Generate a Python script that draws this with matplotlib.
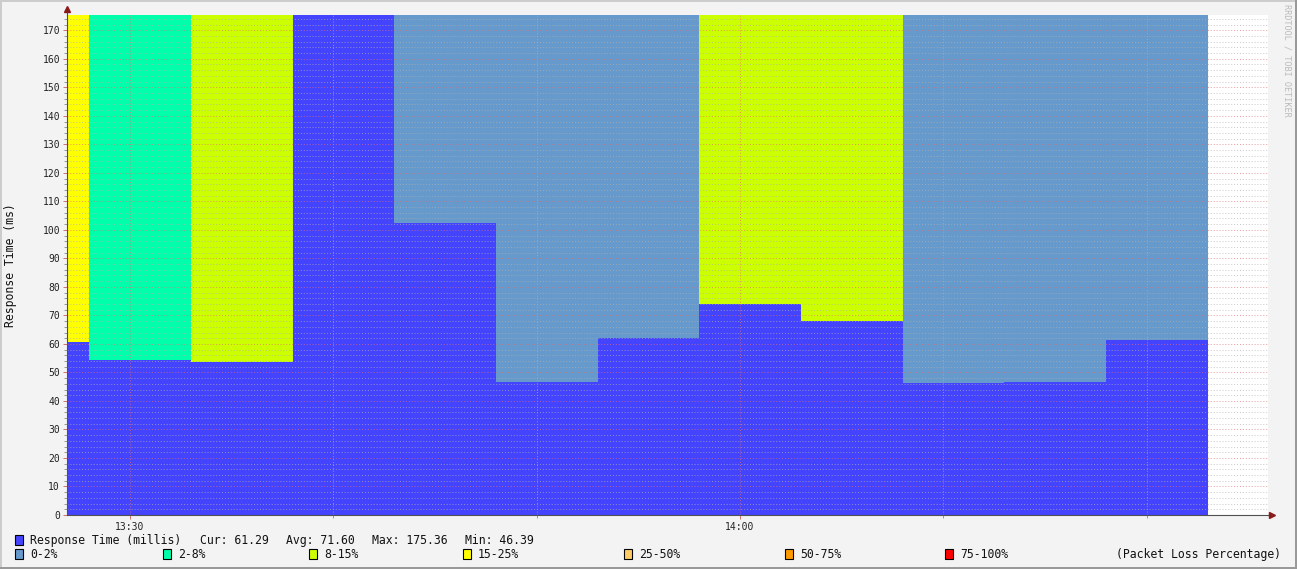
import numpy as np
import matplotlib.pyplot as plt
from matplotlib.patches import Rectangle
from matplotlib.ticker import MultipleLocator, FixedLocator

plt.rcParams['font.family'] = ['DejaVu Sans Mono']

# x is minutes after 13:00, data comes in 5 minute steps
step_edges = [26.9, 28, 33, 38, 43, 48, 53, 58, 63, 68, 73, 78, 83]
response_ms = [60.6, 54.3, 53.6, 175.36, 102.3, 46.6, 62.0, 74.0, 68.0, 46.39, 46.6, 61.29]
loss_band = ['15-25%', '2-8%', '8-15%', '0-2%', '0-2%', '0-2%', '0-2%',
             '8-15%', '8-15%', '0-2%', '0-2%', '0-2%']

loss_labels = ['0-2%', '2-8%', '8-15%', '15-25%', '25-50%', '50-75%', '75-100%']
loss_colors = ['#6699cc', '#00ffaa', '#ccff00', '#ffff00', '#ffcc66', '#ff9900', '#ff0000']

stat_labels = ['Cur: 61.29', 'Avg: 71.60', 'Max: 175.36', 'Min: 46.39']
x_tick_pos = [30, 60]
x_tick_labels = ['13:30', '14:00']

y_top = 175.36
x_min, x_max = 26.9, 85.97

W, H = 1297, 569
fig = plt.figure(figsize=(W / 100, H / 100), dpi=100)
fig.patch.set_facecolor('#f3f3f3')

# 3d-ish frame around the image
fig.add_artist(Rectangle((0, 1 - 2 / H), 1, 2 / H, transform=fig.transFigure, color='#cccccc', lw=0))
fig.add_artist(Rectangle((0, 0), 2 / W, 1, transform=fig.transFigure, color='#cccccc', lw=0))
fig.add_artist(Rectangle((1 - 2 / W, 0), 2 / W, 1, transform=fig.transFigure, color='#999999', lw=0))
fig.add_artist(Rectangle((0, 0), 1, 2 / H, transform=fig.transFigure, color='#999999', lw=0))

ax = fig.add_axes([67 / W, 54 / H, 1201 / W, 500 / H])
ax.set_facecolor('white')

color_of = dict(zip(loss_labels, loss_colors))
ax.bar(step_edges[:-1], y_top, width=np.diff(step_edges), align='edge',
       color=[color_of[b] for b in loss_band], linewidth=0, zorder=1)
ax.stairs(response_ms, step_edges, fill=True, color='#4444ff', linewidth=0, zorder=2)

ax.set_xlim(x_min, x_max)
ax.set_ylim(0, y_top)

ax.yaxis.set_major_locator(MultipleLocator(10))
ax.yaxis.set_minor_locator(MultipleLocator(2))
ax.xaxis.set_major_locator(FixedLocator(x_tick_pos))
ax.set_xticklabels(x_tick_labels)
ax.xaxis.set_minor_locator(MultipleLocator(10))

ax.set_axisbelow(False)
ax.grid(which='minor', color='#b0b0b0', linestyle=(0, (1, 2)), linewidth=0.7, alpha=0.7)
ax.grid(which='major', color='#e07070', linestyle=(0, (1, 2)), linewidth=0.7, alpha=0.7)

ax.tick_params(axis='both', which='major', length=3, width=0.7, color='#d07070',
               labelsize=7, labelcolor='#222222', pad=2)
ax.tick_params(axis='both', which='minor', length=2, width=0.7, color='#999999')

for s in ['top', 'right']:
    ax.spines[s].set_visible(False)
for s in ['left', 'bottom']:
    ax.spines[s].set_color('#505050')
    ax.spines[s].set_linewidth(0.8)
    ax.spines[s].set_zorder(3)

# axis arrows
ax.plot([0, 0], [1, 1.012], transform=ax.transAxes, color='#505050', lw=0.8, clip_on=False)
ax.plot([0], [1.012], transform=ax.transAxes, marker='^', markersize=4,
        color='#8b1a1a', clip_on=False)
ax.plot([1, 1.003], [0, 0], transform=ax.transAxes, color='#505050', lw=0.8, clip_on=False)
ax.plot([1.003], [0], transform=ax.transAxes, marker='>', markersize=4,
        color='#8b1a1a', clip_on=False)

fig.text(11 / W, 1 - 265 / H, 'Response Time (ms)', rotation=90, ha='center', va='center',
         fontsize=8.3, color='#111111')
fig.text(1287 / W, 1 - 4 / H, 'RRDTOOL / TOBI OETIKER', rotation=270, ha='center', va='top',
         fontsize=6.1, color='#bbbbbb')

# legend, text placed on a common baseline per row
def legend_item(x, y, color, label):
    fig.add_artist(Rectangle((x / W, 1 - (y + 5) / H), 8 / W, 10 / H,
                             transform=fig.transFigure, facecolor=color,
                             edgecolor='black', lw=0.8))
    fig.text((x + 15) / W, 1 - (y + 4) / H, label, ha='left', va='baseline',
             fontsize=8.3, color='#111111')

legend_item(15, 540, '#4444ff', 'Response Time (millis)')
for x, lab in zip([200, 286, 372, 465], stat_labels):
    fig.text(x / W, 1 - 544 / H, lab, ha='left', va='baseline', fontsize=8.3, color='#111111')

for x, c, lab in zip([15, 163, 309, 463, 624, 785, 945], loss_colors, loss_labels):
    legend_item(x, 554, c, lab)
fig.text(1281 / W, 1 - 558 / H, '(Packet Loss Percentage)', ha='right', va='baseline',
         fontsize=8.3, color='#111111')

fig.savefig('out.png', dpi=100, facecolor=fig.get_facecolor())
